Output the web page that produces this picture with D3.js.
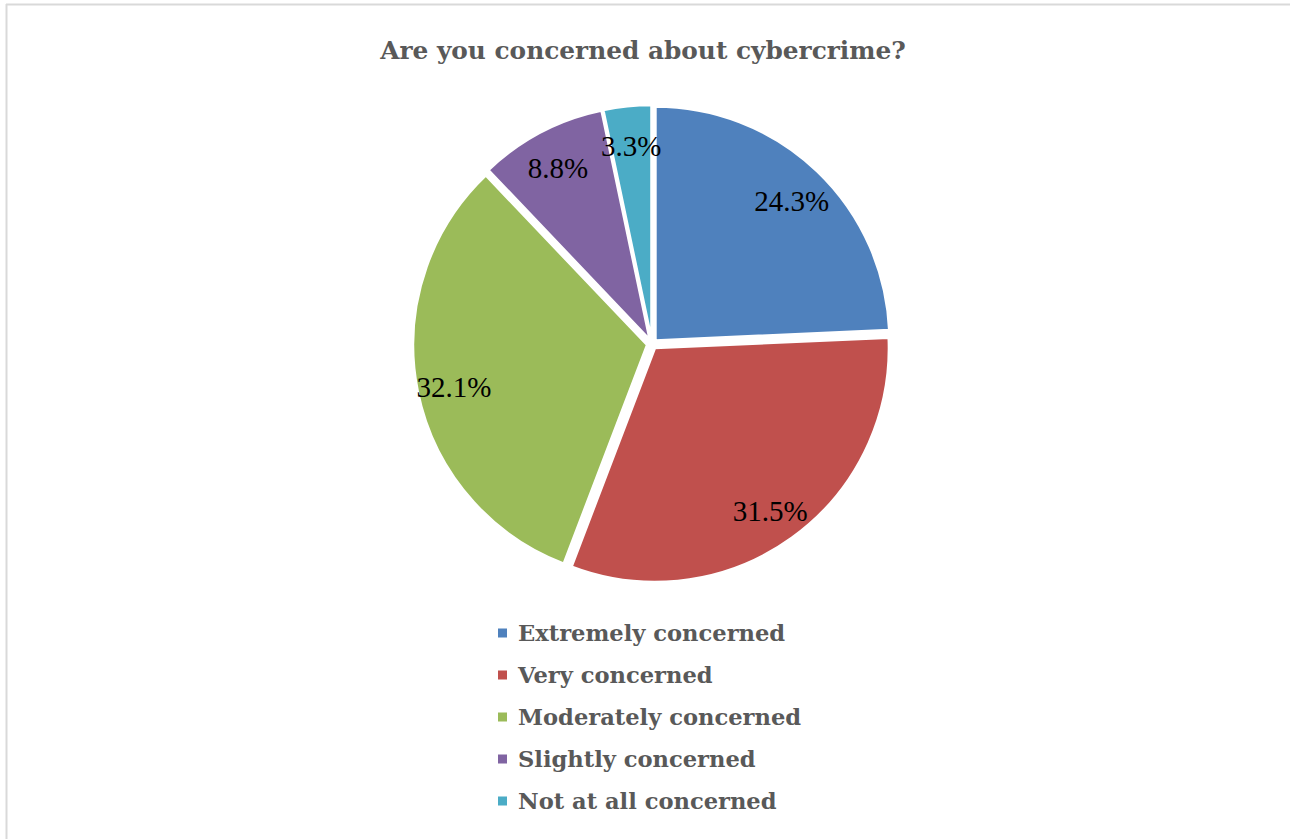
<!DOCTYPE html>
<html>
<head>
<meta charset="utf-8">
<script src="https://cdn.jsdelivr.net/npm/d3@7"></script>
<style>
  html, body { margin: 0; padding: 0; background: #fff; }
  svg { display: block; }
</style>
</head>
<body>
<svg id="chart" width="1290" height="839"></svg>
<script>
// Survey responses: share of respondents per level of concern
const categories = ["Extremely concerned", "Very concerned", "Moderately concerned", "Slightly concerned", "Not at all concerned"];
const shares = [24.3, 31.5, 32.1, 8.8, 3.3];
const colors = ["#4F81BD", "#C0504D", "#9BBB59", "#8064A2", "#4BACC6"];
const title = "Are you concerned about cybercrime?";

const svg = d3.select("#chart");
const W = 1290, H = 839;

// chart area frame (top and left edges visible)
svg.append("line").attr("x1", 6).attr("x2", W).attr("y1", 4.5).attr("y2", 4.5)
  .attr("stroke", "#d9d9d9").attr("stroke-width", 2);
svg.append("line").attr("x1", 6.5).attr("x2", 6.5).attr("y1", 4).attr("y2", H)
  .attr("stroke", "#d9d9d9").attr("stroke-width", 2);

svg.append("text")
  .attr("x", 643).attr("y", 59)
  .attr("text-anchor", "middle")
  .attr("font-family", "'DejaVu Serif', serif")
  .attr("font-weight", "bold")
  .attr("font-size", 24.8)
  .attr("fill", "#595959")
  .text(title);

const cx = 652, cy = 344, R = 234, explode = 5;
const pie = d3.pie().sort(null).value(d => d)(shares);
const arc = d3.arc().innerRadius(0).outerRadius(R);
const labelArc = d3.arc().innerRadius(197).outerRadius(197);

const g = svg.append("g").attr("transform", `translate(${cx},${cy})`);

const slices = g.selectAll("g.slice").data(pie).join("g")
  .attr("class", "slice")
  .attr("transform", d => {
    const a = (d.startAngle + d.endAngle) / 2;
    return `translate(${Math.sin(a) * explode},${-Math.cos(a) * explode})`;
  });

slices.append("path")
  .attr("d", arc)
  .attr("fill", (d, i) => colors[i])
  .attr("stroke", "#fff")
  .attr("stroke-width", 2.5)
  .attr("stroke-linejoin", "round");

slices.append("text")
  .attr("transform", d => `translate(${labelArc.centroid(d)})`)
  .attr("dy", 3)
  .attr("text-anchor", "middle")
  .attr("dominant-baseline", "central")
  .attr("font-family", "'Liberation Serif', serif")
  .attr("font-size", 29)
  .attr("fill", "#000")
  .text(d => d.value.toFixed(1) + "%");

// legend
const legend = svg.append("g").attr("transform", "translate(498,633)");
const rows = legend.selectAll("g").data(categories).join("g")
  .attr("transform", (d, i) => `translate(0,${i * 42})`);
rows.append("rect")
  .attr("x", 0).attr("y", -4.5).attr("width", 9).attr("height", 9)
  .attr("fill", (d, i) => colors[i]);
rows.append("text")
  .attr("x", 20).attr("y", 0)
  .attr("dominant-baseline", "central")
  .attr("font-family", "'DejaVu Serif', serif")
  .attr("font-weight", "bold")
  .attr("font-size", 22.6)
  .attr("fill", "#595959")
  .text(d => d);
</script>
</body>
</html>
